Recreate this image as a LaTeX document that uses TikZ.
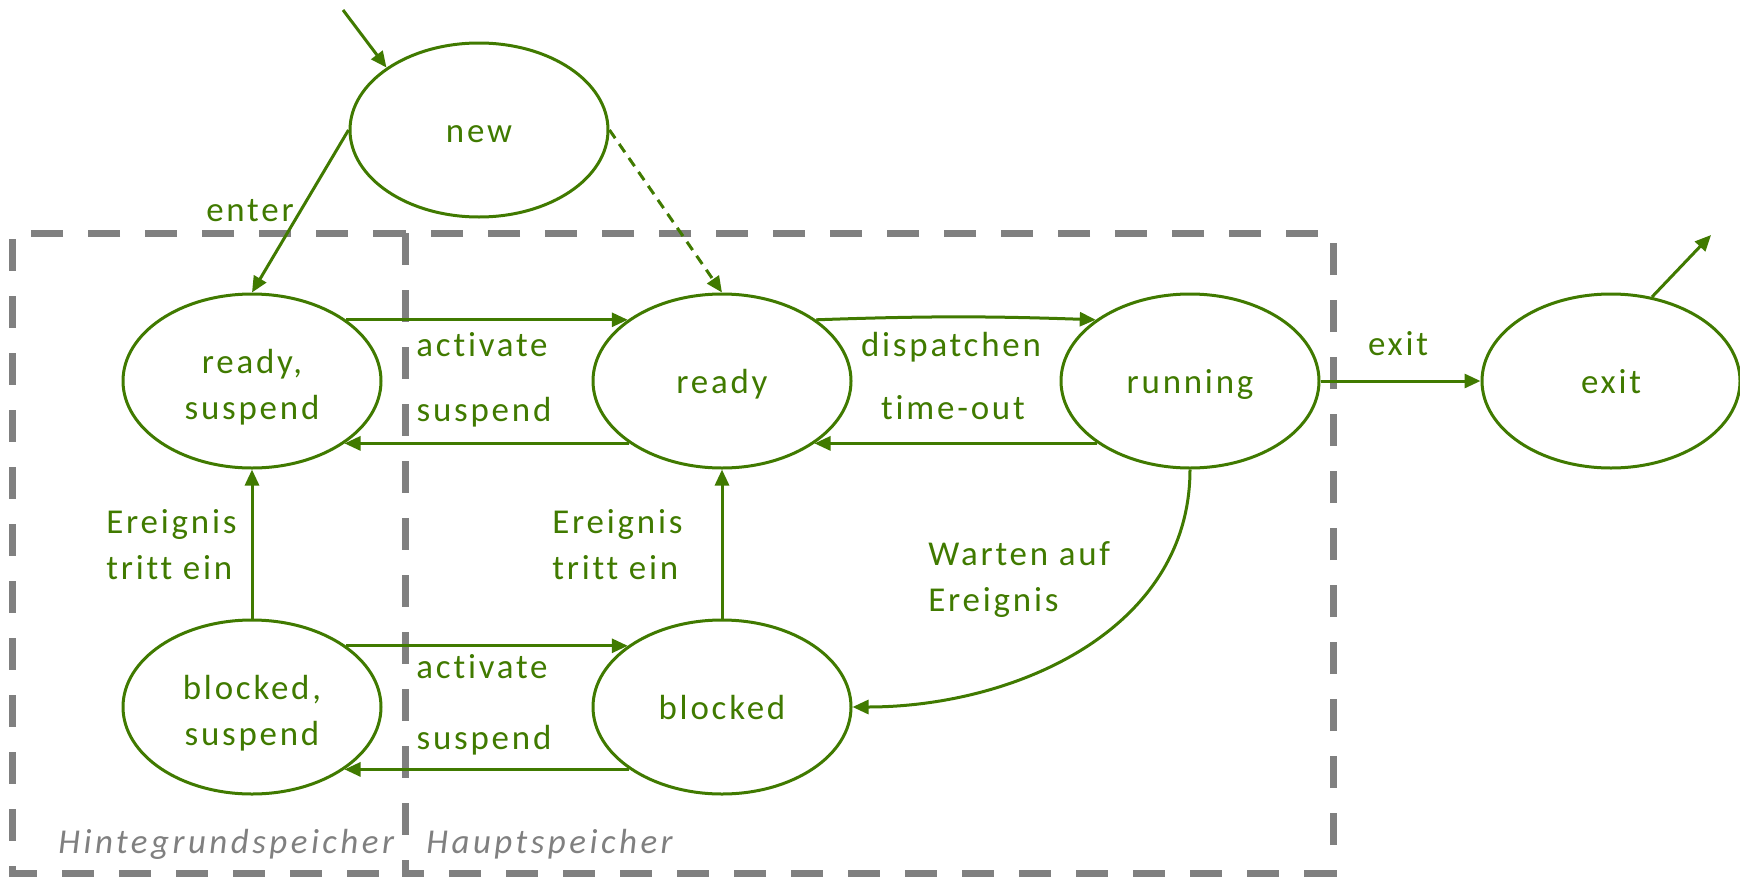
\documentclass[tikz,border=0pt]{standalone}
\usepackage{fontspec}
\setmainfont{Carlito}[LetterSpace=8, Ligatures=NoCommon]
\usetikzlibrary{shapes.geometric, arrows.meta}
\definecolor{pgreen}{RGB}{64,122,0}
\definecolor{pgray}{RGB}{128,128,128}
\newcommand\mainfs{\fontsize{17.45}{23}\selectfont}
\newcommand\topst{\rule{0pt}{19.6pt}}
\newcommand\botst{\rule[-4pt]{0pt}{4pt}}
\begin{document}
\begin{tikzpicture}[x=0.5pt,y=-0.5pt,
  state/.style={ellipse, draw=pgreen, line width=1.5pt, minimum width=129pt, minimum height=87pt, inner sep=0pt, text=pgreen, align=center, font=\mainfs},
  sstate/.style={state, text height=12.6pt, text depth=0pt},
  edge/.style={draw=pgreen, line width=1.5pt, -{Triangle[length=8pt,width=7pt]}},
  lbl/.style={text=pgreen, font=\mainfs, inner sep=0pt},
  region/.style={draw=pgray, line width=3.5pt, dash pattern=on 16pt off 12.5pt},
  rlbl/.style={text=pgray, font=\mainfs\itshape\addfontfeature{LetterSpace=10}, inner sep=0pt, anchor=west}
]
\useasboundingbox (0,0) rectangle (1740,878);
% regions
\draw[region] (405,233) -- (12,233) -- (12,873) -- (405,873);
\draw[region] (405,233) rectangle (1333,873);
\node[rlbl] (lhint) at (58,844) {Hintegrundspeicher};
\node[rlbl] (lhaupt) at (426,844) {Hauptspeicher};
% states
\node[sstate] (new) at (479,130) {new};
\node[state] (rs) at (252,381) {\topst ready,\\suspend\botst};
\node[sstate] (ready) at (722,381) {ready};
\node[sstate] (run) at (1190,381) {running};
\node[sstate] (exit) at (1611,381) {exit};
\node[state] (bs) at (252,707) {\topst blocked,\\suspend\botst};
\node[sstate] (blk) at (722,707) {blocked};
\coordinate (init) at (343,10);
\coordinate (fin) at (1711,235);
% edges
\draw[edge] (init) -- (new.146);
\draw[edge] (exit.64) -- (fin);
\draw[edge] (new.west) -- (rs.north);
\draw[edge, dash pattern=on 5pt off 3.5pt] (new.east) -- (ready.north);
\draw[edge] (rs.33) -- (ready.147);
\draw[edge] (ready.-146) -- (rs.-34);
\draw[edge] (ready.33) to[bend left=2] (run.147);
\draw[edge] (run.-146) -- (ready.-34);
\draw[edge] (run.east) -- (exit.west);
\draw[edge] (bs.33) -- (blk.147);
\draw[edge] (blk.-146) -- (bs.-34);
\draw[edge] (bs.north) -- (rs.south);
\draw[edge] (blk.north) -- (ready.south);
\draw[edge] (run.south) to[out=-90,in=0] (blk.east);
% labels
\node[lbl] (lenter) at (250,211) {enter};
\node[lbl] (lact1) at (482,345) {activate};
\node[lbl] (lsus1) at (484,412) {suspend};
\node[lbl] (ldisp) at (951,347) {dispatchen};
\node[lbl] (ltime) at (953,408) {time-out};
\node[lbl] (lexit) at (1398,344) {exit};
\node[lbl, align=left, anchor=west] (lev1) at (106,545) {Ereignis\\tritt ein};
\node[lbl, align=left, anchor=west] (lev2) at (552,545) {Ereignis\\tritt ein};
\node[lbl, align=left, anchor=west] (lwait) at (928,580) {Warten auf\\Ereignis};
\node[lbl] (lact2) at (482,667) {activate};
\node[lbl] (lsus2) at (484,740) {suspend};
\end{tikzpicture}
\end{document}
